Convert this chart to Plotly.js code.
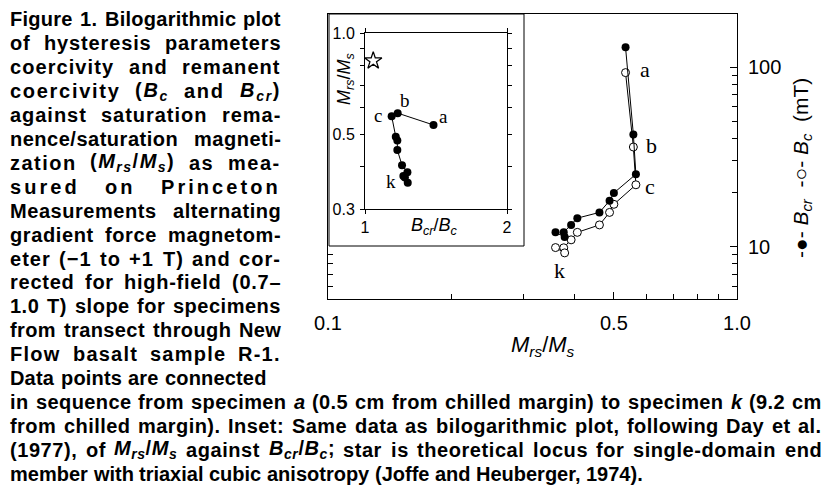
<!DOCTYPE html>
<html><head><meta charset="utf-8">
<script src="https://cdn.plot.ly/plotly-3.0.1.min.js"></script>
<style>html,body{margin:0;padding:0;background:#fff}#chart{width:828px;height:487px}</style>
</head><body><div id="chart"></div><script>
// ---- data ----
const specimens = ['a','b','c','d','e','f','g','h','i','j','k'];
const mrsMs = [0.534,0.558,0.566,0.500,0.488,0.461,0.407,0.393,0.377,0.379,0.360];
const bcr   = [129,42.1,25.3,19.9,18.0,15.5,14.4,13.2,12.0,11.3,12.0];
const bc    = [93.3,35.9,22.1,17.2,15.5,13.2,12.0,10.9,9.84,9.22,9.87];
// inset (Day plot)
const insetRatio = [1.397,1.173,1.139,1.162,1.171,1.171,1.198,1.230,1.206,1.215,1.232];
const insetMrs   = [0.533,0.578,0.566,0.492,0.479,0.449,0.405,0.386,0.376,0.372,0.359];
const starRatio = [1.041];
const starMrs   = [0.827];
// tick labels
const mainXTicks = [0.1,0.5,1.0], mainXTickText = ['0.1','0.5','1.0'];
const mainYTicks = [10,100], mainYTickText = ['10','100'];
const insetXTicks = [1,2], insetXTickText = ['1','2'];
const insetYTicks = [0.3,0.5,1.0], insetYTickText = ['0.3','0.5','1.0'];

const captionLeft = [
 'Figure 1. Bilogarithmic plot',
 'of hysteresis parameters',
 'coercivity and remanent',
 'coercivity (<i>B</i><sub><i>c</i></sub> and <i>B</i><sub><i>cr</i></sub>)',
 'against saturation rema-',
 'nence/saturation magneti-',
 'zation (<i>M</i><sub><i>rs</i></sub>/<i>M</i><sub><i>s</i></sub>) as mea-',
 'sured on Princeton',
 'Measurements alternating',
 'gradient force magnetom-',
 'eter (\u22121 to +1 T) and cor-',
 'rected for high-field (0.7\u2013',
 '1.0 T) slope for specimens',
 'from transect through New',
 'Flow basalt sample R-1.',
 'Data points are connected'
];
const captionBottom = [
 'in sequence from specimen <i>a</i> (0.5 cm from chilled margin) to specimen <i>k</i> (9.2 cm',
 'from chilled margin). Inset: Same data as bilogarithmic plot, following Day et al.',
 '(1977), of <i>M</i><sub><i>rs</i></sub>/<i>M</i><sub><i>s</i></sub> against <i>B</i><sub><i>cr</i></sub>/<i>B</i><sub><i>c</i></sub>; star is theoretical locus for single-domain end',
 'member with triaxial cubic anisotropy (Joffe and Heuberger, 1974).'
];

// ---- layout helpers ----
const W = 828, H = 487;
const px = x => x / W, py = y => 1 - y / H;
const SANS = 'Liberation Sans, Arial, sans-serif';
const SERIF = 'Liberation Serif, Times New Roman, serif';
const log = Math.log10;

const ctx = document.createElement('canvas').getContext('2d');
function measure(html, size) {
  let w = 0, n = 0, italic = false, sub = false, m;
  const re = /<(\/?)(i|sub)>|([^<]+)/g;
  while ((m = re.exec(html))) {
    if (m[3] !== undefined) {
      const fs = sub ? size * 0.7 : size;
      ctx.font = (italic ? 'italic ' : '') + 'bold ' + fs + 'px "Liberation Sans"';
      w += ctx.measureText(m[3]).width;
      n += m[3].length;
    } else {
      const on = m[1] === '';
      if (m[2] === 'i') italic = on; else sub = on;
    }
  }
  return {w: w, n: n};
}
const annotations = [];
function addLine(text, x0, x1, yc, justify) {
  const fs = 20;
  const words = text.split(' ');
  const ms = words.map(w => measure(w, fs));
  const sumW = ms.reduce((a, b) => a + b.w, 0);
  const sumN = ms.reduce((a, b) => a + b.n, 0);
  ctx.font = 'bold ' + fs + 'px "Liberation Sans"';
  const spaceW = ctx.measureText(' ').width;
  let ls = 0, gap = spaceW;
  if (justify && words.length > 1) {
    const extra = (x1 - x0) - sumW - (words.length - 1) * spaceW;
    if (extra > 0) {
      ls = Math.min(0.55 * extra / sumN, 3.2);
      gap = ((x1 - x0) - sumW - ls * sumN) / (words.length - 1);
    } else {
      gap = ((x1 - x0) - sumW) / (words.length - 1);
    }
  }
  let x = x0;
  words.forEach((w, i) => {
    const t = ls > 0.05 ? '<span style="letter-spacing:' + ls.toFixed(2) + 'px">' + w + '</span>' : w;
    annotations.push({xref: 'paper', yref: 'paper', x: px(x), y: py(yc), xanchor: 'left', yanchor: 'middle',
      text: t, showarrow: false, borderpad: 0,
      font: {family: SANS, size: fs, color: '#000', weight: 'bold'}});
    x += ms[i].w + ls * ms[i].n + gap;
  });
}
const lineY = k => 19.5 + 23.9 * k;
captionLeft.forEach((t, k) => addLine(t, 9, k < captionLeft.length - 1 ? 280 : 266, lineY(k), true));
captionBottom.forEach((t, k) => addLine(t, 9, 821, lineY(16 + k), k < captionBottom.length - 1));

// titles
const mrsTitle = '<i>M</i><sub><i>rs</i></sub>/<i>M</i><sub><i>s</i></sub>';
annotations.push({xref:'paper', yref:'paper', x: px(543), y: py(346), text: mrsTitle, showarrow:false,
  xanchor:'center', yanchor:'middle', font:{family:SANS, size:22, color:'#000'}});
annotations.push({xref:'paper', yref:'paper', x: px(345), y: py(79), text: mrsTitle, showarrow:false, textangle:-90,
  xanchor:'center', yanchor:'middle', font:{family:SANS, size:18, color:'#000'}});
annotations.push({xref:'paper', yref:'paper', x: px(434), y: py(226), text: '<i>B</i><sub><i>cr</i></sub>/<i>B</i><sub><i>c</i></sub>', showarrow:false,
  xanchor:'center', yanchor:'middle', font:{family:SANS, size:18, color:'#000'}});
annotations.push({xref:'paper', yref:'paper', x: px(802), y: py(168), textangle:-90, showarrow:false,
  text: '-\u25CF- <i>B</i><sub><i>cr</i></sub>  -\u25CB- <i>B</i><sub><i>c</i></sub>  (mT)',
  xanchor:'center', yanchor:'middle', font:{family:SANS, size:21, color:'#000'}});

// specimen labels anchored at data points
function lab(i, xs, ys, xa, ya, dx, dy, size) {
  annotations.push({xref: xa, yref: ya, x: log(xs[i]), y: log(ys[i]), text: specimens[i], showarrow: false,
    xshift: dx, yshift: dy, xanchor: 'center', yanchor: 'middle', font: {family: SERIF, size: size, color: '#000'}});
}
lab(0, mrsMs, bc, 'x', 'y', 19, 3, 22);
lab(1, mrsMs, bc, 'x', 'y', 18, 2, 22);
lab(2, mrsMs, bc, 'x', 'y', 14, -2, 22);
lab(10, mrsMs, bc, 'x', 'y', 4, -23, 22);
lab(0, insetRatio, insetMrs, 'x2', 'y2', 10, 8, 19);
lab(1, insetRatio, insetMrs, 'x2', 'y2', 7, 13, 19);
lab(2, insetRatio, insetMrs, 'x2', 'y2', -14, 1, 19);
lab(10, insetRatio, insetMrs, 'x2', 'y2', -17, 1, 19);

const traces = [
  {x: mrsMs, y: bc, xaxis:'x', yaxis:'y', mode:'lines+markers', line:{color:'#000', width:1},
   marker:{symbol:'circle', size:8, color:'#fff', line:{color:'#000', width:1}}, hoverinfo:'skip'},
  {x: mrsMs, y: bcr, xaxis:'x', yaxis:'y', mode:'lines+markers', line:{color:'#000', width:1},
   marker:{symbol:'circle', size:8, color:'#000'}, hoverinfo:'skip'},
  {x: insetRatio, y: insetMrs, xaxis:'x2', yaxis:'y2', mode:'lines+markers', line:{color:'#000', width:1},
   marker:{symbol:'circle', size:8, color:'#000'}, hoverinfo:'skip'},
  {x: starRatio, y: starMrs, xaxis:'x2', yaxis:'y2', mode:'markers',
   marker:{symbol:'star-open', size:13, color:'#000', line:{color:'#000', width:1.3}}, hoverinfo:'skip'},
  {x: [], y: [], xaxis:'x', yaxis:'y3', mode:'markers', hoverinfo:'skip'}
];

const tickFont = {family: SANS, size: 20, color: '#000'};
const insetFont = {family: SANS, size: 16, color: '#000'};
const yr = [log(5.1), log(198)];
const layout = {
  width: W, height: H, margin: {l:0, r:0, t:0, b:0},
  paper_bgcolor: '#fff', plot_bgcolor: 'rgba(0,0,0,0)', showlegend: false,
  xaxis: {type:'log', range:[-1, 0], domain:[px(328), px(737)], anchor:'y',
    showline:true, linecolor:'#000', linewidth:1, mirror:true, showgrid:false, zeroline:false,
    ticks:'inside', ticklen:7, tickcolor:'#000', tickvals: mainXTicks, ticktext: mainXTickText,
    tickfont: tickFont, ticklabelstandoff: 6,
    minor:{tickvals:[0.2,0.3,0.4,0.6,0.7,0.8,0.9], ticks:'inside', ticklen:5, tickcolor:'#000', showgrid:false}},
  yaxis: {type:'log', range: yr, domain:[py(299), py(14)], anchor:'x', side:'right',
    showline:true, linecolor:'#000', linewidth:1, mirror:true, showgrid:false, zeroline:false,
    ticks:'inside', ticklen:7, tickcolor:'#000', tickvals: mainYTicks, ticktext: mainYTickText,
    tickfont: tickFont, ticklabelstandoff: 6,
    minor:{tickvals:[6,7,8,9,20,30,40,50,60,70,80,90], ticks:'inside', ticklen:5, tickcolor:'#000', showgrid:false}},
  yaxis3: {type:'log', range: yr, overlaying:'y', anchor:'x', side:'left', showline:false, showgrid:false,
    zeroline:false, ticks:'inside', ticklen:5, tickcolor:'#000', tickvals:[6,7,8,9], showticklabels:false},
  xaxis2: {type:'log', range:[0, log(2)], domain:[px(365), px(507)], anchor:'y2',
    showline:true, linecolor:'#000', linewidth:1, mirror:'allticks', showgrid:false, zeroline:false,
    ticks:'outside', ticklen:4, tickcolor:'#000', tickvals: insetXTicks, ticktext: insetXTickText,
    tickfont: insetFont, ticklabelstandoff: 0},
  yaxis2: {type:'log', range:[log(0.3), 0], domain:[py(209), py(33)], anchor:'x2',
    showline:true, linecolor:'#000', linewidth:1, mirror:'allticks', showgrid:false, zeroline:false,
    ticks:'outside', ticklen:4, tickcolor:'#000', tickvals: insetYTicks, ticktext: insetYTickText,
    tickfont: insetFont, ticklabelstandoff: 2,
    minor:{tickvals:[0.4,0.6,0.7,0.8,0.9], ticks:'outside', ticklen:4, tickcolor:'#000', showgrid:false}},
  shapes: [{type:'rect', xref:'paper', yref:'paper', x0:px(329), x1:px(524), y0:py(246), y1:py(14),
    line:{color:'#000', width:1}, fillcolor:'#fff', layer:'below'}],
  annotations: annotations
};
Plotly.newPlot('chart', traces, layout, {staticPlot:true, displayModeBar:false});
</script></body></html>
